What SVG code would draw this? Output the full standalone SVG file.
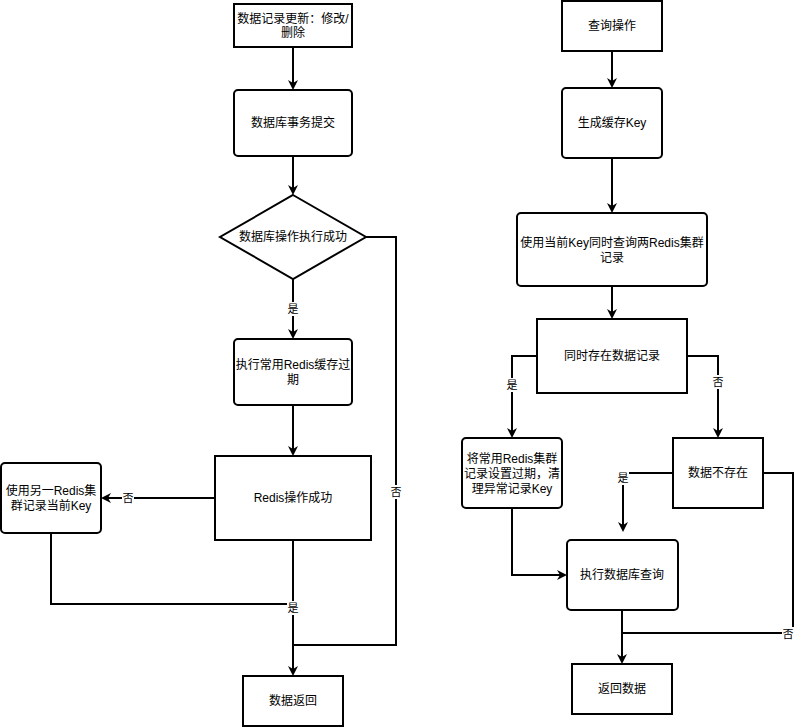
<svg xmlns="http://www.w3.org/2000/svg" width="803" height="727" viewBox="0 0 803 727">
<style>
.n{fill:#fff;stroke:#000;stroke-width:2}
.t{font-family:"Liberation Sans","Noto Sans CJK SC",sans-serif;font-size:12px;fill:#000;text-anchor:middle;dominant-baseline:central}
.c{fill:none;stroke:#000;stroke-width:2}
.l{font-family:"Liberation Sans","Noto Sans CJK SC",sans-serif;font-size:11px;fill:#000;text-anchor:middle;dominant-baseline:central}
.lb{fill:#fff}
</style>
<defs><marker id="a" markerWidth="10" markerHeight="10" refX="8" refY="5" orient="auto" markerUnits="userSpaceOnUse"><path d="M0,0 L10,5 L0,10 L3,5 Z" fill="#000"/></marker></defs>
<rect width="803" height="727" fill="#fff"/>
<g id="connectors">
<path class="c" d="M293,47V88" marker-end="url(#a)"/>
<path class="c" d="M293,156V193" marker-end="url(#a)"/>
<path class="c" d="M293,279V337" marker-end="url(#a)"/>
<path class="c" d="M293,405V454" marker-end="url(#a)"/>
<path class="c" d="M215,498H103" marker-end="url(#a)"/>
<path class="c" d="M293,540V674" marker-end="url(#a)"/>
<path class="c" d="M51,533V604H293"/>
<path class="c" d="M366,237H396V645H293"/>
<path class="c" d="M612,51V86" marker-end="url(#a)"/>
<path class="c" d="M612,158V211" marker-end="url(#a)"/>
<path class="c" d="M612,286V317" marker-end="url(#a)"/>
<path class="c" d="M537,356H512V436" marker-end="url(#a)"/>
<path class="c" d="M687,356H718V436" marker-end="url(#a)"/>
<path class="c" d="M673,473H623V530" marker-end="url(#a)"/>
<path class="c" d="M512,508V575H565" marker-end="url(#a)"/>
<path class="c" d="M622,610V662" marker-end="url(#a)"/>
<path class="c" d="M763,473H793V633H622"/>
<rect class="lb" x="287" y="302" width="12" height="14"/><text class="l" x="293" y="309">是</text>
<rect class="lb" x="122" y="491" width="12" height="14"/><text class="l" x="128" y="498">否</text>
<rect class="lb" x="287" y="601" width="12" height="14"/><text class="l" x="293" y="608">是</text>
<rect class="lb" x="390" y="485" width="12" height="14"/><text class="l" x="396" y="492">否</text>
<rect class="lb" x="506" y="378" width="12" height="14"/><text class="l" x="512" y="385">是</text>
<rect class="lb" x="712" y="375" width="12" height="14"/><text class="l" x="718" y="382">否</text>
<rect class="lb" x="617" y="471" width="12" height="14"/><text class="l" x="623" y="478">是</text>
<rect class="lb" x="782" y="627" width="12" height="14"/><text class="l" x="788" y="634">否</text>
</g>
<g id="n1"><rect class="n" x="234" y="4" width="118" height="43"/><text class="t" x="293" y="19">数据记录更新：修改/</text><text class="t" x="293" y="33">删除</text></g>
<g id="n2"><rect class="n" x="234" y="90" width="118" height="66" rx="4"/><text class="t" x="293" y="123">数据库事务提交</text></g>
<g id="n3"><path class="n" d="M293,195L366,237L293,279L220,237Z"/><text class="t" x="293" y="237">数据库操作执行成功</text></g>
<g id="n4"><rect class="n" x="234" y="339" width="118" height="66" rx="4"/><text class="t" x="293" y="365">执行常用Redis缓存过</text><text class="t" x="293" y="380">期</text></g>
<g id="n5"><rect class="n" x="215" y="456" width="156" height="84"/><text class="t" x="293" y="498">Redis操作成功</text></g>
<g id="n6"><rect class="n" x="1" y="463" width="100" height="70" rx="4"/><text class="t" x="51" y="491">使用另一Redis集</text><text class="t" x="51" y="506">群记录当前Key</text></g>
<g id="n7"><rect class="n" x="243" y="676" width="100" height="50"/><text class="t" x="293" y="701">数据返回</text></g>
<g id="r1"><rect class="n" x="562" y="1" width="100" height="50"/><text class="t" x="612" y="26">查询操作</text></g>
<g id="r2"><rect class="n" x="562" y="88" width="100" height="70" rx="4"/><text class="t" x="612" y="123">生成缓存Key</text></g>
<g id="r3"><rect class="n" x="517" y="213" width="190" height="73" rx="4"/><text class="t" x="612" y="243">使用当前Key同时查询两Redis集群</text><text class="t" x="612" y="258">记录</text></g>
<g id="r4"><rect class="n" x="537" y="319" width="150" height="74"/><text class="t" x="612" y="356">同时存在数据记录</text></g>
<g id="r5"><rect class="n" x="462" y="438" width="100" height="70" rx="4"/><text class="t" x="512" y="459">将常用Redis集群</text><text class="t" x="512" y="474">记录设置过期，清</text><text class="t" x="512" y="489">理异常记录Key</text></g>
<g id="r6"><rect class="n" x="673" y="438" width="90" height="70"/><text class="t" x="718" y="473">数据不存在</text></g>
<g id="r7"><rect class="n" x="567" y="540" width="111" height="70" rx="4"/><text class="t" x="622" y="575">执行数据库查询</text></g>
<g id="r8"><rect class="n" x="572" y="664" width="100" height="50"/><text class="t" x="622" y="689">返回数据</text></g>
</svg>
